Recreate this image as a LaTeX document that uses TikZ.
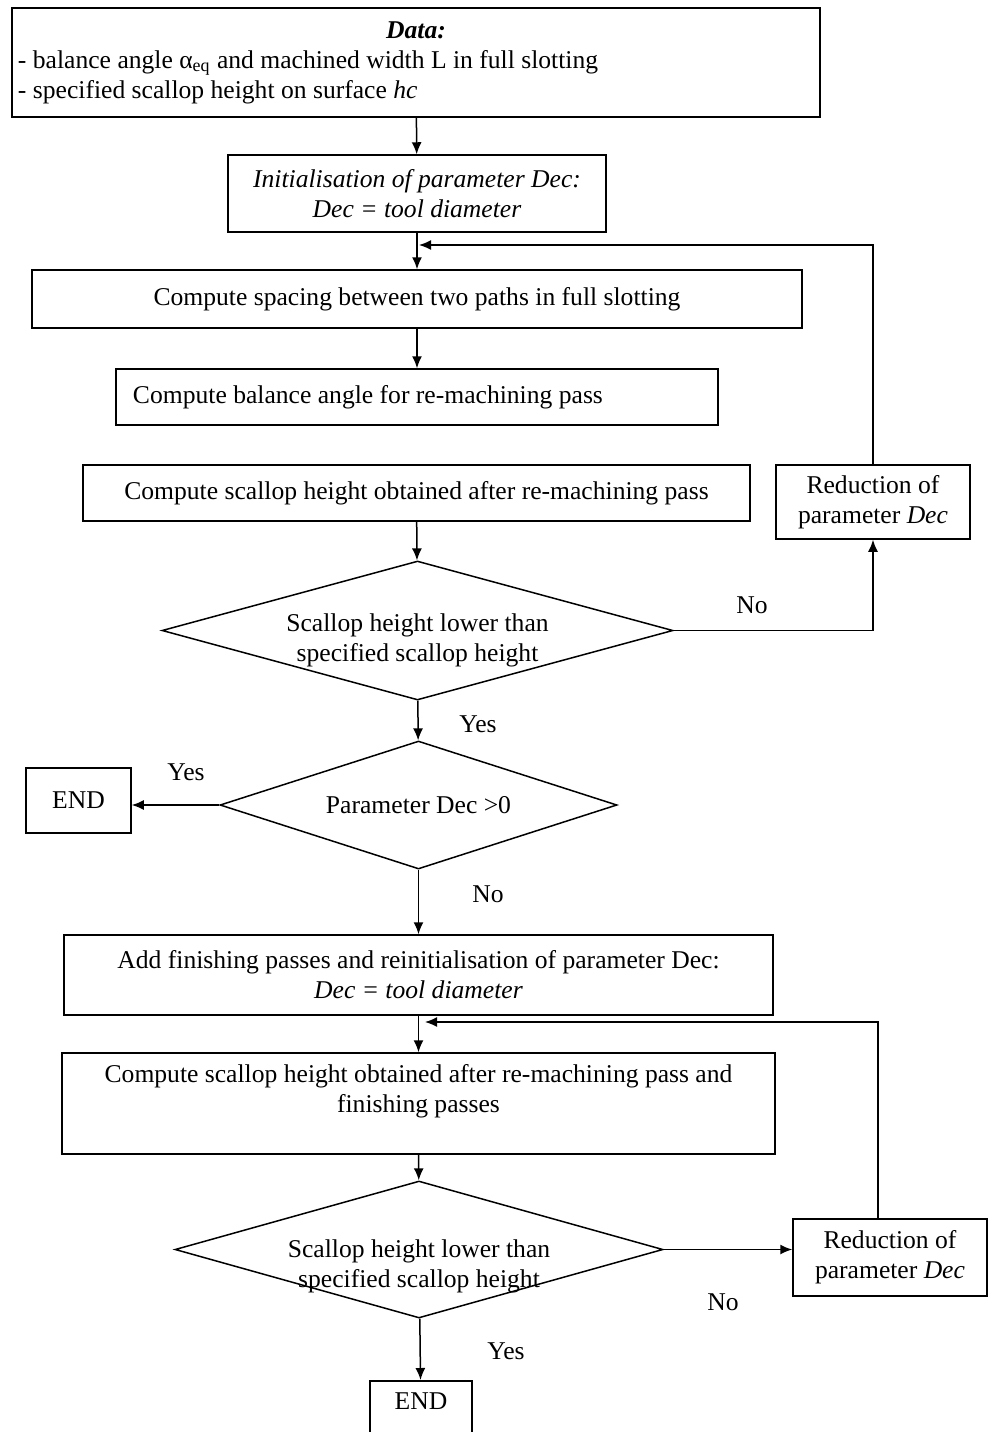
\documentclass[tikz,border=0pt]{standalone}
\usepackage{fontspec}
\setmainfont{Liberation Serif}
\usetikzlibrary{positioning,shapes.geometric,arrows.meta}
\newcommand{\flowfont}{\fontsize{12.8}{15}\selectfont}
\tikzset{
  box/.style ={rectangle, draw=black, line width=0.75pt, inner sep=3pt, align=center, font=\flowfont},
  dia/.style ={diamond, draw=black, line width=0.75pt, inner sep=0pt, align=center, font=\flowfont},
  e/.style   ={-{Latex[length=6pt, width=5pt]}, draw=black, line width=0.75pt},
  el/.style  ={inner sep=0pt, font=\flowfont},
}

\begin{document}
\begin{tikzpicture}[x=0.5pt, y=-0.5pt]
\useasboundingbox (0,0) rectangle (992,1432);
\clip (0,0) rectangle (992,1432);
%% ---------- first pass: re-machining ----------
\node[box, text width=398pt, align=flush center, minimum height=54.5pt] (data) at (416,62.5)
  {{\bfseries\itshape Data:}\\
   \makebox[\linewidth][l]{- balance angle α\textsubscript{eq} and machined width L in full slotting}\\
   \makebox[\linewidth][l]{- specified scallop height on surface \textit{hc}}};
\node[box, minimum width=189pt, minimum height=38.5pt, font=\flowfont\itshape] (init) at (417,193.5)
  {Initialisation of parameter Dec:\\Dec = tool diameter};
\node[box, minimum width=385pt, minimum height=29pt] (spacing) at (417,299)
  {Compute spacing between two paths in full slotting};
\node[box, text width=284pt, inner xsep=8.5pt, align=flush left, minimum height=28pt] (balance) at (417,397)
  {Compute balance angle for re-machining pass};
\node[box, minimum width=333.5pt, minimum height=28pt] (scallop) at (416.5,493)
  {Compute scallop height obtained after re-machining pass};
\node[box, minimum width=97pt, minimum height=37pt] (red1) at (873,502)
  {Reduction of\\parameter \textit{Dec}};
\node[dia, minimum width=255.5pt, minimum height=69.5pt, aspect=3.7,
      text height=31pt, text depth=0pt] (d1) at (417.5,630.5)
  {Scallop height lower than\\specified scallop height};
\node[dia, minimum width=198.5pt, minimum height=64pt, aspect=3.1] (d2) at (418.5,805)
  {Parameter Dec >0};
\node[box, minimum width=52.5pt, minimum height=32.5pt] (end1) at (78.5,800.5) {END};
%% ---------- second pass: finishing ----------
\node[box, minimum width=354.5pt, minimum height=40pt] (add) at (418.5,975)
  {Add finishing passes and reinitialisation of parameter Dec:\\\textit{Dec = tool diameter}};
\node[box, minimum width=356.5pt, minimum height=50.5pt] (final) at (418.5,1103.5)
  {Compute scallop height obtained after re-machining pass and\\finishing passes\\\mbox{}};
\node[dia, minimum width=244pt, minimum height=68.5pt, aspect=3.56, inner sep=-5pt,
      text height=38pt, text depth=0pt] (d3) at (419,1249.5)
  {Scallop height lower than\\specified scallop height};
\node[box, minimum width=97pt, minimum height=38.5pt] (red2) at (890,1257.5)
  {Reduction of\\parameter \textit{Dec}};
\node[box, anchor=north, minimum width=51pt, inner ysep=6pt, text depth=20pt] (end2) at (421,1380) {END};
%% ---------- connectors ----------
\coordinate (j1) at (419,245);
\coordinate (j2) at (425,1022);
\draw[e] (data) -- (init);
\draw[e] (init) -- (spacing);
\draw[e] (spacing) -- (balance);
\draw[e] (scallop) -- (d1);
\draw[e] (d1.east) -| (red1.south);
\draw[e] (red1.north) |- (j1);
\draw[e] (d1) -- (d2);
\draw[e] (d2.west) -- (d2.west -| end1.east);
\draw[e] (d2) -- (add);
\draw[e] (add) -- (final);
\draw[e] (final) -- (d3);
\draw[e] (d3.east) -- (d3.east -| red2.west);
\draw[e] ([xshift=-6pt]red2.north) |- (j2);
\draw[e] (d3) -- (end2);
% branch labels
\node[el] (no1)  at (752,605)  {No};
\node[el] (yes1) at (478,724)  {Yes};
\node[el] (yes2) at (186,772)  {Yes};
\node[el] (no2)  at (488,894)  {No};
\node[el] (no3)  at (723,1302) {No};
\node[el] (yes3) at (506,1351) {Yes};
\end{tikzpicture}
\end{document}
